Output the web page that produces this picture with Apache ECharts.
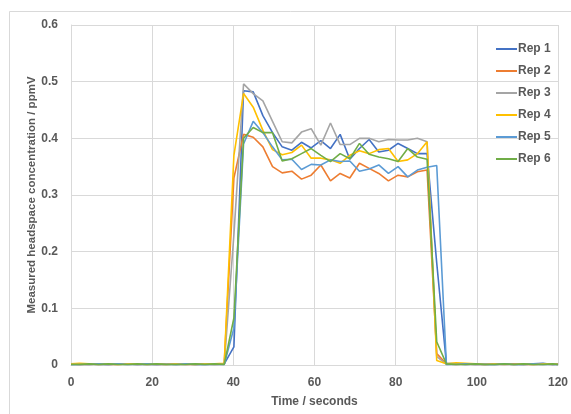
<!DOCTYPE html>
<html>
<head>
<meta charset="utf-8">
<script src="https://cdn.jsdelivr.net/npm/echarts@6/dist/echarts.min.js"></script>
<style>
html,body{margin:0;padding:0;background:#fff;}
#chart{width:571px;height:414px;}
</style>
</head>
<body>
<div id="chart"></div>
<script>
// Time stamps (seconds)
var times = [0, 2.06, 4.44, 6.82, 9.2, 11.58, 13.96, 16.34, 18.72, 21.1, 23.48, 25.86, 28.24, 30.62, 33.0, 35.38,
  37.76, 40.14, 42.52, 44.9, 47.28, 49.66, 52.04, 54.42, 56.8, 59.18, 61.56, 63.94, 66.32, 68.7, 71.08, 73.46,
  75.84, 78.22, 80.6, 82.98, 85.36, 87.74, 90.12, 92.5, 94.88, 97.26, 99.64, 102.02, 104.4, 106.78, 109.16,
  111.54, 113.92, 116.3, 118.68, 120];

var seriesNames = ['Rep 1', 'Rep 2', 'Rep 3', 'Rep 4', 'Rep 5', 'Rep 6'];

var rep1 = [0.001,0.001,0.002,0.001,0.001,0.002,0.002,0.001,0.001,0.001,0.002,0.001,0.002,0.001,0.001,0.002,
  0.002,0.032,
  0.484,0.482,0.44,0.41,0.385,0.379,0.393,0.383,0.396,0.382,0.407,0.363,0.382,0.398,0.376,0.379,0.391,0.382,0.373,0.373,
  0.18,0.003,
  0.002,0.001,0.002,0.001,0.001,0.002,0.001,0.001,0.002,0.003,0.001,0.001];
var rep2 = [0.002,0.001,0.001,0.002,0.001,0.001,0.002,0.001,0.002,0.001,0.001,0.002,0.001,0.001,0.002,0.001,
  0.002,0.33,
  0.407,0.402,0.385,0.35,0.339,0.342,0.328,0.335,0.353,0.325,0.338,0.330,0.356,0.347,0.338,0.325,0.335,0.332,0.341,0.344,
  0.02,0.002,
  0.001,0.002,0.001,0.001,0.002,0.001,0.002,0.001,0.001,0.002,0.001,0.002];
var rep3 = [0.001,0.002,0.001,0.001,0.001,0.002,0.001,0.002,0.001,0.001,0.002,0.001,0.001,0.002,0.001,0.001,
  0.001,0.23,
  0.496,0.479,0.466,0.43,0.394,0.392,0.411,0.417,0.388,0.427,0.389,0.389,0.40,0.40,0.394,0.398,0.397,0.397,0.40,0.394,
  0.015,0.001,
  0.002,0.001,0.001,0.002,0.001,0.001,0.001,0.002,0.001,0.001,0.002,0.001];
var rep4 = [0.002,0.003,0.002,0.001,0.002,0.001,0.002,0.002,0.001,0.002,0.001,0.002,0.002,0.001,0.002,0.002,
  0.003,0.37,
  0.479,0.455,0.414,0.38,0.371,0.375,0.388,0.365,0.365,0.362,0.356,0.37,0.378,0.373,0.38,0.382,0.359,0.362,0.373,0.394,
  0.008,0.002,
  0.004,0.003,0.002,0.001,0.002,0.002,0.001,0.002,0.001,0.002,0.002,0.001];
var rep5 = [0.001,0.001,0.001,0.002,0.001,0.002,0.001,0.001,0.002,0.001,0.001,0.001,0.002,0.001,0.001,0.001,
  0.001,0.065,
  0.39,0.43,0.41,0.385,0.362,0.363,0.345,0.354,0.353,0.362,0.359,0.36,0.342,0.346,0.353,0.338,0.35,0.332,0.344,0.349,
  0.352,0.001,
  0.001,0.002,0.001,0.001,0.001,0.002,0.001,0.001,0.002,0.001,0.001,0.001];
var rep6 = [0.001,0.001,0.002,0.001,0.002,0.001,0.001,0.002,0.001,0.002,0.001,0.001,0.001,0.002,0.001,0.002,
  0.001,0.083,
  0.40,0.419,0.41,0.41,0.36,0.364,0.373,0.382,0.37,0.359,0.373,0.364,0.391,0.372,0.367,0.364,0.359,0.382,0.367,0.363,
  0.041,0.002,
  0.001,0.001,0.002,0.001,0.001,0.002,0.001,0.002,0.001,0.001,0.002,0.001];

var xTicks = [0, 20, 40, 60, 80, 100, 120];
var yTicks = [0, 0.1, 0.2, 0.3, 0.4, 0.5, 0.6];

var colors = ['#4472C4', '#ED7D31', '#A5A5A5', '#FFC000', '#5B9BD5', '#70AD47'];
var allReps = [rep1, rep2, rep3, rep4, rep5, rep6];

var font = 'Liberation Sans';
var txtColor = '#595959';

var chart = echarts.init(document.getElementById('chart'), null, {renderer: 'canvas'});
var series = allReps.map(function (vals, s) {
  return {
    name: seriesNames[s],
    type: 'line',
    data: times.map(function (t, i) { return [t, vals[i]]; }),
    showSymbol: false,
    symbol: 'none',
    lineStyle: {width: 1.6, color: colors[s]},
    itemStyle: {color: colors[s]},
    animation: false
  };
});

chart.setOption({
  animation: false,
  backgroundColor: '#fff',
  color: colors,
  graphic: [{
    type: 'rect',
    shape: {x: 9.5, y: 11.5, width: 700, height: 500},
    style: {fill: 'none', stroke: '#D9D9D9', lineWidth: 1},
    silent: true
  }],
  grid: {left: 71, right: 9, top: 25, bottom: 49, containLabel: false},
  legend: {
    orient: 'vertical',
    left: 491,
    top: 37,
    icon: 'rect',
    itemWidth: 21,
    itemHeight: 2,
    itemGap: 8,
    data: seriesNames,
    textStyle: {fontFamily: font, fontSize: 12, fontWeight: 'bold', color: txtColor, lineHeight: 14, padding: [0, 0, 0, -4]}
  },
  xAxis: {
    type: 'value',
    min: xTicks[0],
    max: xTicks[xTicks.length - 1],
    interval: 20,
    name: 'Time / seconds',
    nameLocation: 'middle',
    nameGap: 31,
    nameMoveOverlap: false,
    nameTextStyle: {fontFamily: font, fontSize: 12, fontWeight: 'bold', color: txtColor},
    axisLine: {show: true, lineStyle: {color: '#D9D9D9', width: 1}},
    axisTick: {show: false},
    axisLabel: {fontFamily: font, fontSize: 12, fontWeight: 'bold', color: txtColor, margin: 12},
    splitLine: {show: true, lineStyle: {color: '#D9D9D9', width: 1}}
  },
  yAxis: {
    type: 'value',
    min: yTicks[0],
    max: yTicks[yTicks.length - 1],
    interval: 0.1,
    name: 'Measured headspace concentration / ppmV',
    nameLocation: 'middle',
    nameGap: 33,
    nameMoveOverlap: false,
    nameTextStyle: {fontFamily: font, fontSize: 11.5, fontWeight: 'bold', color: txtColor},
    axisLine: {show: true, lineStyle: {color: '#D9D9D9', width: 1}},
    axisTick: {show: false},
    axisLabel: {
      fontFamily: font, fontSize: 12, fontWeight: 'bold', color: txtColor, margin: 13,
      formatter: function (v) { return v === 0 ? '0' : v.toFixed(1); }
    },
    splitLine: {show: true, lineStyle: {color: '#D9D9D9', width: 1}}
  },
  series: series
});
</script>
</body>
</html>
